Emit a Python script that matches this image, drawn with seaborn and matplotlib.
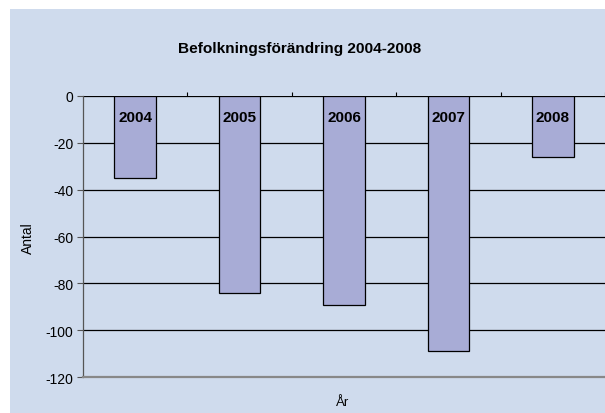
import matplotlib
matplotlib.use("Agg")
import matplotlib.pyplot as plt
import seaborn as sns
import pandas as pd
from matplotlib.patches import Rectangle

years = ["2004", "2005", "2006", "2007", "2008"]
values = [-35, -84, -89, -109, -26]
title = "Befolkningsförändring 2004-2008"
yticks = [0, -20, -40, -60, -80, -100, -120]

sns.set_theme(style="white")
plt.rcParams['font.family'] = ['Liberation Sans', 'DejaVu Sans']
plt.rcParams['text.color'] = 'black'

bg = "#cfdbed"
barc = "#a8acd6"

W, H = 605, 414
fig = plt.figure(figsize=(W/100, H/100), dpi=100)
fig.patch.set_facecolor("white")
fig.patches.append(Rectangle((10/W, 0), 1 - 10/W, 1 - 10/H, transform=fig.transFigure,
                             facecolor=bg, edgecolor="none", zorder=-10))

ax = fig.add_axes([83/W, (H - 378.3)/H, (W - 83)/W, (378.3 - 96.7)/H])
ax.set_facecolor(bg)

df = pd.DataFrame({"year": years, "value": values})
sns.barplot(data=df, x="year", y="value", color=barc, edgecolor="black",
            linewidth=0.9, width=0.4, saturation=1, ax=ax, zorder=3)

ax.set_ylim(-120, 0)
ax.set_xlim(-0.5, 4.5)
ax.set_yticks(yticks)
ax.set_yticklabels([str(v) for v in yticks], fontsize=10, color="black")
for v in yticks[:-1]:
    ax.axhline(v, color="black", lw=0.9, zorder=1)

ax.xaxis.tick_top()
ax.set_xticks([0.5, 1.5, 2.5, 3.5, 4.5])
ax.set_xticklabels([])
ax.tick_params(axis="x", direction="out", length=3, width=0.8, color="black", top=True, bottom=False)
ax.tick_params(axis="y", direction="out", length=4, width=0.8, color="#555555", left=True, pad=3)

for s in ["top", "right"]:
    ax.spines[s].set_visible(False)
ax.spines["left"].set_color("#555555")
ax.spines["left"].set_linewidth(0.9)
ax.spines["bottom"].set_color("#888888")
ax.spines["bottom"].set_linewidth(1.6)

for i, y in enumerate(years):
    ax.text(i, -9.1, y, ha="center", va="center", fontsize=11, fontweight="bold",
            color="black", zorder=5)

ax.set_xlabel("")
ax.set_ylabel("")
fig.text(343/W, 1 - 403/H, "År", ha="center", va="center", fontsize=9.5, color="black")
fig.text(28/W, 1 - 238.5/H, "Antal", ha="center", va="center", rotation=90, fontsize=10, color="black")
fig.text(300/W, 1 - 49/H, title, ha="center", va="center", fontsize=11.1, fontweight="bold", color="black")

fig.savefig("out.png", dpi=100, facecolor="white")
